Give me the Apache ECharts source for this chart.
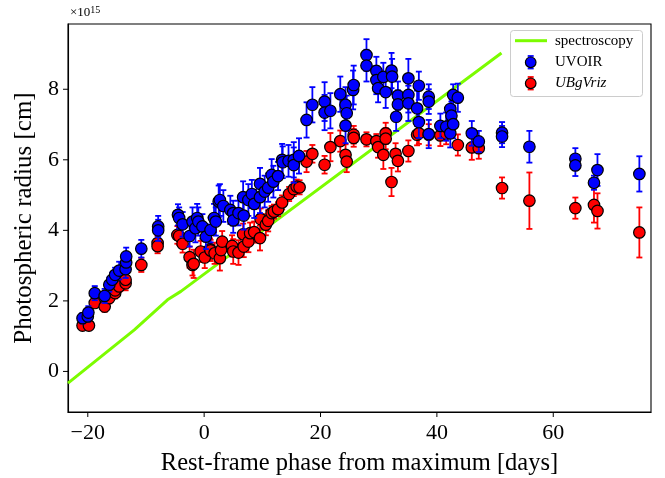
<!DOCTYPE html>
<html>
<head>
<meta charset="utf-8">
<script src="https://cdn.jsdelivr.net/npm/echarts@6/dist/echarts.min.js"></script>
<style>
html,body{margin:0;padding:0;background:#fff;}
#chart{width:665px;height:478px;}
</style>
</head>
<body>
<div id="chart"></div>
<script>
// Values in units of 1e15 cm
const specPhase = [-23.4, -12.0, -6.3, -4.0, 51.1];
const specRadius = [-0.33, 1.18, 2.03, 2.27, 9.03];

const uvoirPhase = [-20.9,-20.0,-19.9,-18.8,-17.1,-16.3,-15.8,-15.3,-14.6,-13.5,-13.4,-13.4,-10.8,-7.9,-7.9,-4.5,-4.3,-3.7,-2.5,-2.0,-1.5,-1.2,-1.0,-0.3,0.3,1.1,1.7,2.0,2.5,2.7,3.3,4.5,5.0,5.0,5.9,6.8,6.7,7.6,8.2,8.6,9.6,9.6,10.4,11.0,11.6,11.9,12.7,13.4,13.5,14.5,15.4,15.4,16.3,17.6,18.6,20.7,20.7,21.7,23.4,24.3,24.5,24.3,25.6,25.7,27.9,27.9,29.6,29.6,29.9,30.8,31.2,32.2,32.3,33.3,33.3,33.0,35.1,35.1,35.1,36.6,36.9,36.9,38.6,38.6,38.6,40.6,41.6,42.3,42.3,42.5,42.8,42.8,43.6,46.0,47.2,51.2,51.2,55.9,63.8,63.8,67.6,67.0,74.8];
const uvoirRadius = [1.51,1.56,1.67,2.22,2.14,2.46,2.60,2.74,2.86,2.90,3.09,3.26,3.48,4.11,4.00,4.44,4.35,4.17,3.84,4.25,4.06,4.35,4.25,4.11,3.82,4.01,4.35,4.25,4.82,4.86,4.69,4.58,4.49,4.28,4.49,4.42,4.94,4.86,5.03,4.75,4.94,5.32,5.10,5.21,5.57,5.38,5.54,6.00,5.93,5.97,6.00,5.85,6.11,7.13,7.56,7.65,7.34,7.39,7.86,7.56,7.32,6.97,7.98,8.12,8.97,8.67,8.52,8.26,8.03,8.35,7.92,8.53,8.36,7.82,7.57,7.22,8.31,7.84,7.60,7.46,8.10,7.07,7.79,7.65,6.73,6.96,6.94,6.75,7.44,7.25,7.01,7.84,7.76,6.75,6.52,6.77,6.66,6.37,6.03,5.84,5.71,5.35,5.60];
const uvoirErr = [0.15,0.15,0.18,0.2,0.2,0.2,0.2,0.2,0.25,0.25,0.25,0.25,0.25,0.3,0.3,0.3,0.3,0.35,0.3,0.4,0.4,0.4,0.4,0.35,0.35,0.35,0.4,0.4,0.45,0.45,0.45,0.4,0.35,0.35,0.35,0.4,0.45,0.45,0.4,0.4,0.45,0.45,0.45,0.4,0.45,0.45,0.4,0.45,0.45,0.45,0.5,0.5,0.5,0.5,0.5,0.55,0.5,0.5,0.5,0.5,0.5,0.5,0.55,0.55,0.45,0.45,0.4,0.4,0.4,0.4,0.45,0.5,0.5,0.4,0.4,0.4,0.55,0.5,0.5,0.5,0.4,0.45,0.35,0.35,0.4,0.35,0.4,0.4,0.4,0.4,0.4,0.3,0.4,0.35,0.3,0.3,0.3,0.45,0.3,0.3,0.45,0.2,0.5];

const ubgPhase = [-20.9,-19.8,-18.8,-17.1,-16.3,-15.3,-15.3,-14.6,-13.5,-13.5,-10.8,-8.0,-8.0,-4.6,-4.3,-3.7,-2.5,-2.0,-1.8,-0.6,0.1,1.0,1.1,1.8,2.7,2.9,3.1,4.8,5.0,5.9,6.8,6.7,7.6,7.9,8.6,9.6,9.7,10.6,11.0,11.6,12.0,12.7,13.4,14.6,15.4,15.9,16.4,17.6,18.6,20.7,21.7,23.4,24.3,24.5,25.7,25.7,27.9,29.6,29.9,30.8,31.2,31.2,32.2,32.9,33.3,35.1,36.6,36.9,38.6,40.6,41.6,42.3,43.6,46.0,47.2,51.2,55.9,63.8,67.0,67.6,74.8];
const ubgRadius = [1.30,1.30,1.94,1.84,2.08,2.22,2.30,2.41,2.50,2.60,3.02,3.64,3.55,3.87,3.84,3.62,3.24,3.02,3.05,3.40,3.23,3.47,3.43,3.35,3.21,3.44,3.68,3.56,3.40,3.37,3.54,3.89,3.68,3.92,3.95,3.78,4.32,4.16,4.27,4.49,4.53,4.60,4.79,5.03,5.17,5.24,5.22,5.95,6.17,5.86,6.36,6.53,6.14,5.95,6.71,6.62,6.58,6.53,6.36,6.14,6.75,6.60,5.37,6.17,5.97,6.25,6.71,6.75,6.71,6.69,6.74,7.00,6.42,6.35,6.33,5.20,4.84,4.63,4.72,4.55,3.94];
const ubgErr = [0.1,0.1,0.12,0.15,0.15,0.15,0.15,0.15,0.2,0.2,0.2,0.2,0.2,0.25,0.25,0.25,0.3,0.3,0.4,0.3,0.3,0.3,0.3,0.3,0.35,0.3,0.3,0.3,0.35,0.35,0.3,0.3,0.3,0.3,0.3,0.35,0.3,0.3,0.3,0.2,0.2,0.2,0.2,0.2,0.2,0.2,0.2,0.3,0.25,0.25,0.4,0.3,0.3,0.3,0.25,0.25,0.2,0.2,0.3,0.4,0.3,0.3,0.4,0.3,0.3,0.3,0.3,0.3,0.3,0.3,0.3,0.3,0.3,0.35,0.3,0.3,0.8,0.3,0.5,0.5,0.71];

const xTicks = [-20, 0, 20, 40, 60];
const yTicks = [0, 2, 4, 6, 8];
const X_MIN = -23.4, X_MAX = 76.8, Y_MIN = -1.15, Y_MAX = 9.85;

const FONT = 'Liberation Serif';
const BLUE = '#0000ff', RED = '#ff0000', GREEN = '#7cfc00';

function zip3(a, b, c) { return a.map((v, i) => [v, b[i], c[i]]); }
const specData = specPhase.map((v, i) => [v, specRadius[i]]);
const uvoirData = zip3(uvoirPhase, uvoirRadius, uvoirErr);
const ubgData = zip3(ubgPhase, ubgRadius, ubgErr);

function errRender(color) {
  return function (params, api) {
    const x = api.value(0), y = api.value(1), e = api.value(2);
    const lo = api.coord([x, y - e]), hi = api.coord([x, y + e]);
    const cw = 3;
    const st = { stroke: color, lineWidth: 1.8 };
    return {
      type: 'group',
      children: [
        { type: 'line', shape: { x1: lo[0], y1: lo[1], x2: hi[0], y2: hi[1] }, style: st },
        { type: 'line', shape: { x1: lo[0] - cw, y1: lo[1], x2: lo[0] + cw, y2: lo[1] }, style: st },
        { type: 'line', shape: { x1: hi[0] - cw, y1: hi[1], x2: hi[0] + cw, y2: hi[1] }, style: st }
      ]
    };
  };
}

// axis tick marks (outward), placed through the axis scales
const tickData = xTicks.map(v => [v, 'x']).concat(yTicks.map(v => [v, 'y']));
function tickRender(params, api) {
  const idx = params.dataIndex;
  const item = tickData[idx];
  const st = { stroke: '#000', lineWidth: 1 };
  if (item[1] === 'x') {
    const p = api.coord([item[0], Y_MIN]);
    return { type: 'line', shape: { x1: p[0], y1: p[1], x2: p[0], y2: p[1] + 5 }, style: st };
  }
  const p = api.coord([X_MIN, item[0]]);
  return { type: 'line', shape: { x1: p[0] - 5, y1: p[1], x2: p[0], y2: p[1] }, style: st };
}

const fmtMinus = v => String(v).replace('-', '\u2212');

const chart = echarts.init(document.getElementById('chart'), null, { renderer: 'canvas' });
const option = {
  animation: false,
  backgroundColor: '#fff',
  grid: { left: 68, right: 14, top: 24, bottom: 66, containLabel: false, outerBoundsMode: 'none',
          show: true, borderColor: '#000', borderWidth: 1.1, backgroundColor: 'transparent' },
  xAxis: {
    type: 'value', min: X_MIN, max: X_MAX,
    splitLine: { show: false },
    axisLine: { show: true, onZero: false, lineStyle: { color: '#000', width: 1.1 } },
    axisTick: { show: false },
    axisLabel: { customValues: xTicks, formatter: fmtMinus, fontFamily: FONT, fontSize: 22, color: '#000', margin: 10 },
    name: 'Rest-frame phase from maximum [days]', nameLocation: 'middle', nameGap: 39,
    nameTextStyle: { fontFamily: FONT, fontSize: 24.5, color: '#000' }
  },
  yAxis: {
    type: 'value', min: Y_MIN, max: Y_MAX,
    splitLine: { show: false },
    axisLine: { show: true, onZero: false, lineStyle: { color: '#000', width: 1.1 } },
    axisTick: { show: false },
    axisLabel: { customValues: yTicks, formatter: fmtMinus, fontFamily: FONT, fontSize: 22, color: '#000', margin: 9 },
    name: 'Photospheric radius [cm]', nameLocation: 'middle', nameGap: 26,
    nameTextStyle: { fontFamily: FONT, fontSize: 25, color: '#000' }
  },
  graphic: [
    { type: 'text', left: 70, top: 5, style: { text: '×10{s|15}', fontFamily: FONT, fontSize: 13, fill: '#000',
      rich: { s: { fontSize: 10, verticalAlign: 'top', fontFamily: FONT, padding: [0,0,5,0] } } } },
    { type: 'rect', shape: { x: 510.5, y: 30.5, width: 132, height: 66, r: 3 }, style: { fill: 'rgba(255,255,255,0.85)', stroke: '#cccccc', lineWidth: 1 }, z: 100 },
    { type: 'line', shape: { x1: 515, y1: 40.7, x2: 547, y2: 40.7 }, style: { stroke: GREEN, lineWidth: 3 }, z: 101 },
    { type: 'text', x: 555, y: 40.7, style: { text: 'spectroscopy', fontFamily: FONT, fontSize: 15, fill: '#000', verticalAlign: 'middle' }, z: 101 },
    { type: 'line', shape: { x1: 530.7, y1: 56, x2: 530.7, y2: 68.5 }, style: { stroke: BLUE, lineWidth: 1.8 }, z: 101 },
    { type: 'line', shape: { x1: 527.7, y1: 56, x2: 533.7, y2: 56 }, style: { stroke: BLUE, lineWidth: 1.8 }, z: 101 },
    { type: 'line', shape: { x1: 527.7, y1: 68.5, x2: 533.7, y2: 68.5 }, style: { stroke: BLUE, lineWidth: 1.8 }, z: 101 },
    { type: 'circle', shape: { cx: 530.7, cy: 62.3, r: 5.3 }, style: { fill: BLUE, stroke: '#000', lineWidth: 1.2 }, z: 102 },
    { type: 'text', x: 555, y: 62.3, style: { text: 'UVOIR', fontFamily: FONT, fontSize: 15, fill: '#000', verticalAlign: 'middle' }, z: 101 },
    { type: 'line', shape: { x1: 530.7, y1: 77, x2: 530.7, y2: 89.5 }, style: { stroke: RED, lineWidth: 1.8 }, z: 101 },
    { type: 'line', shape: { x1: 527.7, y1: 77, x2: 533.7, y2: 77 }, style: { stroke: RED, lineWidth: 1.8 }, z: 101 },
    { type: 'line', shape: { x1: 527.7, y1: 89.5, x2: 533.7, y2: 89.5 }, style: { stroke: RED, lineWidth: 1.8 }, z: 101 },
    { type: 'circle', shape: { cx: 530.7, cy: 83.3, r: 5.3 }, style: { fill: RED, stroke: '#000', lineWidth: 1.2 }, z: 102 },
    { type: 'text', x: 555, y: 83.3, style: { text: 'UBgVriz', fontFamily: FONT, fontStyle: 'italic', fontSize: 15, fill: '#000', verticalAlign: 'middle' }, z: 101 }
  ],
  series: [
    { type: 'custom', data: tickData.map((t, i) => [i]), renderItem: tickRender, clip: false, silent: true, z: 10 },
    { type: 'line', data: specData, showSymbol: false, symbol: 'none', lineStyle: { color: GREEN, width: 3 }, z: 1, silent: true },
    { type: 'custom', data: ubgData, renderItem: errRender(RED), z: 2, silent: true },
    { type: 'scatter', data: ubgData, symbol: 'circle', symbolSize: 11.5, itemStyle: { color: RED, borderColor: '#000', borderWidth: 1.2, opacity: 1 }, z: 3 },
    { type: 'custom', data: uvoirData, renderItem: errRender(BLUE), z: 4, silent: true },
    { type: 'scatter', data: uvoirData, symbol: 'circle', symbolSize: 11.5, itemStyle: { color: BLUE, borderColor: '#000', borderWidth: 1.2, opacity: 1 }, z: 5 }
  ]
};
chart.setOption(option);
</script>
</body>
</html>
